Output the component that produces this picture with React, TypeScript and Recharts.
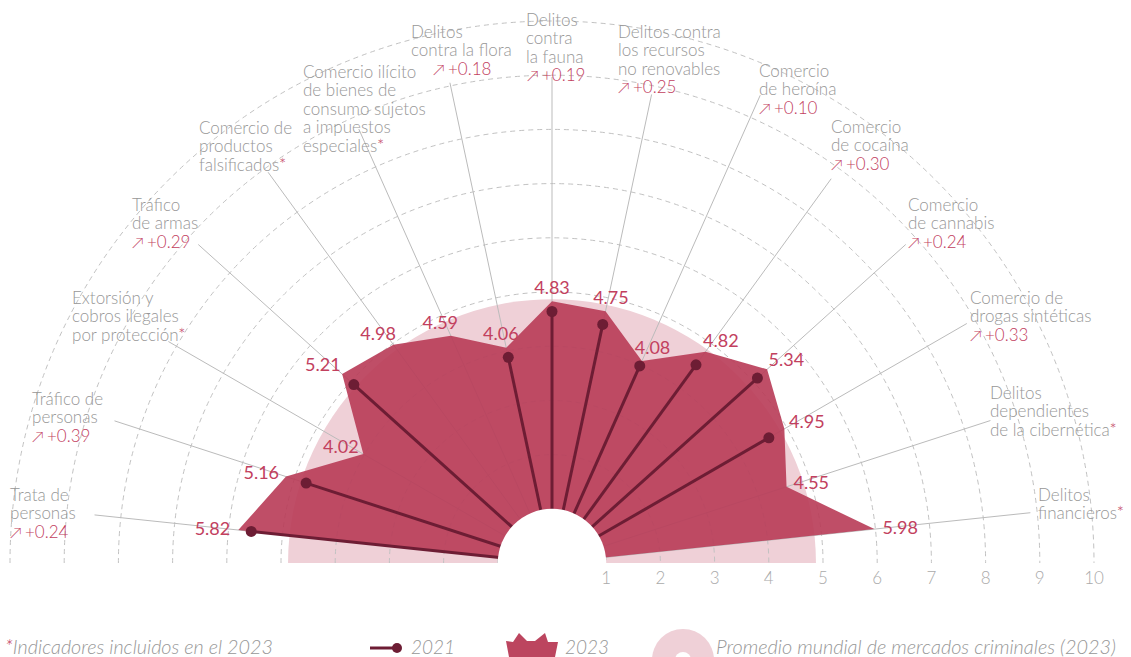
import React from 'react';
import { RadarChart, Radar, PolarAngleAxis, PolarRadiusAxis } from 'recharts';

// ---------- data ----------
const categories = [
  'Trata de personas',
  'Tráfico de personas',
  'Extorsión y cobros ilegales por protección',
  'Tráfico de armas',
  'Comercio de productos falsificados',
  'Comercio ilícito de bienes de consumo sujetos a impuestos especiales',
  'Delitos contra la flora',
  'Delitos contra la fauna',
  'Delitos contra los recursos no renovables',
  'Comercio de heroína',
  'Comercio de cocaína',
  'Comercio de cannabis',
  'Comercio de drogas sintéticas',
  'Delitos dependientes de la cibernética',
  'Delitos financieros',
];
const values2023 = [5.82, 5.16, 4.02, 5.21, 4.98, 4.59, 4.06, 4.83, 4.75, 4.08, 4.82, 5.34, 4.95, 4.55, 5.98];
const values2021: (number | null)[] = [5.58, 4.77, null, 4.92, null, null, 3.88, 4.64, 4.5, 3.98, 4.52, 5.1, 4.62, null, null];
const changes: (number | null)[] = [0.24, 0.39, null, 0.29, null, null, 0.18, 0.19, 0.25, 0.1, 0.3, 0.24, 0.33, null, null];
const newIn2023 = [false, false, true, false, true, true, false, false, false, false, false, false, false, true, true];
const worldAverage = 4.87;
const radiusTicks = [1, 2, 3, 4, 5, 6, 7, 8, 9, 10];
const labelLines = [
  ['Trata de', 'personas'],
  ['Tráfico de', 'personas'],
  ['Extorsión y', 'cobros ilegales', 'por protección'],
  ['Tráfico', 'de armas'],
  ['Comercio de', 'productos', 'falsificados'],
  ['Comercio ilícito', 'de bienes de', 'consumo sujetos', 'a impuestos', 'especiales'],
  ['Delitos', 'contra la flora'],
  ['Delitos', 'contra', 'la fauna'],
  ['Delitos contra', 'los recursos', 'no renovables'],
  ['Comercio', 'de heroína'],
  ['Comercio', 'de cocaína'],
  ['Comercio', 'de cannabis'],
  ['Comercio de', 'drogas sintéticas'],
  ['Delitos', 'dependientes', 'de la cibernética'],
  ['Delitos', 'financieros'],
];
const legendNote = 'Indicadores incluidos en el 2023';
const legend2021 = '2021';
const legend2023 = '2023';
const legendAvg = 'Promedio mundial de mercados criminales (2023)';

// ---------- layout / style ----------
const W = 1131;
const H = 657;
const CX = 552;
const CY = 563;
const OUTER = 542;
const FONT = 'Lato, "Noto Sans", sans-serif';
const GRAY = '#979797';
const CRIMSON = '#c2405e';
const FILL = '#b83b56';
const PINK = '#efd0d7';
const DARK = '#6d1d34';
const LH = 18.5;
// label block: x, y (center of first line), change-line x, spoke length
const labelLayout = [
  { x: 10, y: 495, cx: 10, spoke: 460 },
  { x: 32, y: 399, cx: 32, spoke: 460 },
  { x: 72, y: 298, cx: 72, spoke: 443 },
  { x: 132, y: 205, cx: 132, spoke: 476 },
  { x: 199, y: 128, cx: 199, spoke: 483 },
  { x: 303, y: 72, cx: 303, spoke: 475 },
  { x: 411, y: 32, cx: 433, spoke: 491 },
  { x: 526, y: 20, cx: 527, spoke: 486 },
  { x: 618, y: 32, cx: 618, spoke: 479 },
  { x: 759, y: 71, cx: 759, spoke: 512 },
  { x: 831, y: 127, cx: 831, spoke: 475 },
  { x: 908, y: 205, cx: 908, spoke: 476 },
  { x: 970, y: 298, cx: 970, spoke: 479 },
  { x: 990, y: 393, cx: 990, spoke: 461 },
  { x: 1038, y: 495, cx: 1038, spoke: 481 },
];

const data = categories.map((name, i) => ({
  name,
  v2023: values2023[i],
  v2021: values2021[i],
  avg: worldAverage,
}));

const rad = (deg: number) => (deg * Math.PI) / 180;
const polar = (cx: number, cy: number, r: number, angle: number) => ({
  x: cx + r * Math.cos(rad(angle)),
  y: cy - r * Math.sin(rad(angle)),
});
const arcPath = (cx: number, cy: number, r: number) =>
  `M${cx - r},${cy} A${r},${r} 0 0 1 ${cx + r},${cy}`;

const BgShape = (props: any) => {
  const pts = props.points || [];
  if (!pts.length) return null;
  const cx = pts[0].cx ?? CX;
  const cy = pts[0].cy ?? CY;
  const unit = pts[0].radius / pts[0].value;
  const r = pts[0].radius;
  return (
    <g>
      <path d={`${arcPath(cx, cy, r)} Z`} fill={PINK} />
      {radiusTicks.map((k) => (
        <path key={k} d={arcPath(cx, cy, k * unit)} fill="none" stroke="#c2c2c2" strokeWidth={1} strokeDasharray="5 4" />
      ))}
      {pts.map((p: any, i: number) => {
        const e = polar(cx, cy, labelLayout[i].spoke, p.angle);
        return <line key={i} x1={cx} y1={cy} x2={e.x} y2={e.y} stroke="#bbbbbb" strokeWidth={1} />;
      })}
    </g>
  );
};

const Shape2023 = (props: any) => {
  const pts = props.points || [];
  if (!pts.length) return null;
  const cx = pts[0].cx ?? CX;
  const cy = pts[0].cy ?? CY;
  const d = `M${cx},${cy} ` + pts.map((p: any) => `L${p.x},${p.y}`).join(' ') + ' Z';
  return (
    <g>
      <path d={d} fill={FILL} fillOpacity={0.9} />
      {pts.map((p: any, i: number) => {
        const c = Math.cos(rad(p.angle));
        const s = Math.sin(rad(p.angle));
        return (
          <text
            key={i}
            x={p.x + c * 26}
            y={p.y - s * 14}
            dy="0.35em"
            textAnchor="middle"
            fill={CRIMSON}
            fontSize={18}
            fontFamily={FONT}
          >
            {Number(p.value).toFixed(2)}
          </text>
        );
      })}
    </g>
  );
};

const Shape2021 = (props: any) => {
  const pts = props.points || [];
  if (!pts.length) return null;
  const cx = pts[0].cx ?? CX;
  const cy = pts[0].cy ?? CY;
  const p = pts.find((q: any) => q.value != null && q.radius > 0);
  const unit = p ? p.radius / p.value : OUTER / 10;
  return (
    <g>
      {pts.map((q: any, i: number) => {
        if (!q.payload || q.payload.v2021 == null) return null;
        const s = polar(cx, cy, unit * 0.8, q.angle);
        return (
          <g key={i}>
            <line x1={s.x} y1={s.y} x2={q.x} y2={q.y} stroke={DARK} strokeWidth={3} />
            <circle cx={q.x} cy={q.y} r={5.5} fill={DARK} />
          </g>
        );
      })}
      <path d={`${arcPath(cx, cy, unit)} Z`} fill="#ffffff" />
      <rect x={cx - unit - 2} y={cy} width={2 * unit + 4} height={4} fill="#ffffff" />
    </g>
  );
};

const AngleTick = (props: any) => {
  const name = props.payload?.value;
  const i = categories.indexOf(name);
  if (i < 0) return null;
  const L = labelLayout[i];
  const lines = labelLines[i];
  const ch = changes[i];
  return (
    <g>
      {lines.map((ln, k) => (
        <text key={k} x={L.x} y={L.y + k * LH} dy="0.35em" fill={GRAY} fontSize={17} fontFamily={FONT} fontWeight={300}>
          {ln}
          {k === lines.length - 1 && newIn2023[i] ? <tspan fill={CRIMSON}>*</tspan> : null}
        </text>
      ))}
      {ch != null ? (
        <text x={L.cx} y={L.y + lines.length * LH} dy="0.35em" fill={CRIMSON} fontSize={17} fontFamily={FONT} fontWeight={300}>
          <tspan fontSize={16}>↗</tspan>
          <tspan dx={3}>{'+' + ch.toFixed(2)}</tspan>
        </text>
      ) : null}
    </g>
  );
};

const RadiusTick = (props: any) => {
  const v = props.payload?.value;
  if (!v) return null;
  return (
    <text x={props.x} y={props.y + 15} dy="0.35em" textAnchor="middle" fill="#aaaaaa" fontSize={17} fontFamily={FONT} fontWeight={300}>
      {v}
    </text>
  );
};

const legendText = { fontSize: 19, fontStyle: 'italic', fontWeight: 300, fontFamily: FONT, fill: GRAY } as const;

const Legend = () => (
  <svg width={W} height={57} style={{ position: 'absolute', left: 0, top: 600 }}>
    <text x={5} y={47} dy="0.35em" {...legendText} textLength={268} lengthAdjust="spacingAndGlyphs">
      <tspan fill={CRIMSON}>*</tspan>
      {legendNote}
    </text>
    <line x1={370} y1={48} x2={397} y2={48} stroke={DARK} strokeWidth={3} />
    <circle cx={397} cy={48} r={5} fill={DARK} />
    <text x={411} y={47} dy="0.35em" {...legendText} textLength={44} lengthAdjust="spacingAndGlyphs">
      {legend2021}
    </text>
    <polygon points="506,41 513,42 519,33 527,41 535,41 545,33 548,42 558,42 555,57 509,57" fill={FILL} fillOpacity={0.95} />
    <text x={565} y={47} dy="0.35em" {...legendText} textLength={44} lengthAdjust="spacingAndGlyphs">
      {legend2023}
    </text>
    <path d="M652,60 A31,31 0 0 1 714,60 Z" fill={PINK} />
    <path d="M675,60 A8,8 0 0 1 691,60 Z" fill="#ffffff" />
    <text x={716} y={47} dy="0.35em" {...legendText} textLength={400} lengthAdjust="spacingAndGlyphs">
      {legendAvg}
    </text>
  </svg>
);

export default function App() {
  return (
    <div style={{ position: 'absolute', left: 0, top: 0, width: W, height: H, background: '#fff', overflow: 'hidden' }}>
      <RadarChart
        width={W}
        height={600}
        data={data}
        cx={CX}
        cy={CY}
        innerRadius={0}
        outerRadius={OUTER}
        startAngle={174}
        endAngle={-6}
        margin={{ top: 0, right: 0, bottom: 0, left: 0 }}
      >
        <PolarRadiusAxis angle={0} domain={[0, 10]} type="number" tickCount={11} axisLine={false} tick={<RadiusTick />} />
        <PolarAngleAxis dataKey="name" tick={<AngleTick />} tickLine={false} axisLine={false} />
        <Radar dataKey="avg" isAnimationActive={false} shape={(p: any) => <BgShape {...p} />} />
        <Radar dataKey="v2023" isAnimationActive={false} shape={(p: any) => <Shape2023 {...p} />} />
        <Radar dataKey="v2021" isAnimationActive={false} shape={(p: any) => <Shape2021 {...p} />} />
      </RadarChart>
      <Legend />
    </div>
  );
}
